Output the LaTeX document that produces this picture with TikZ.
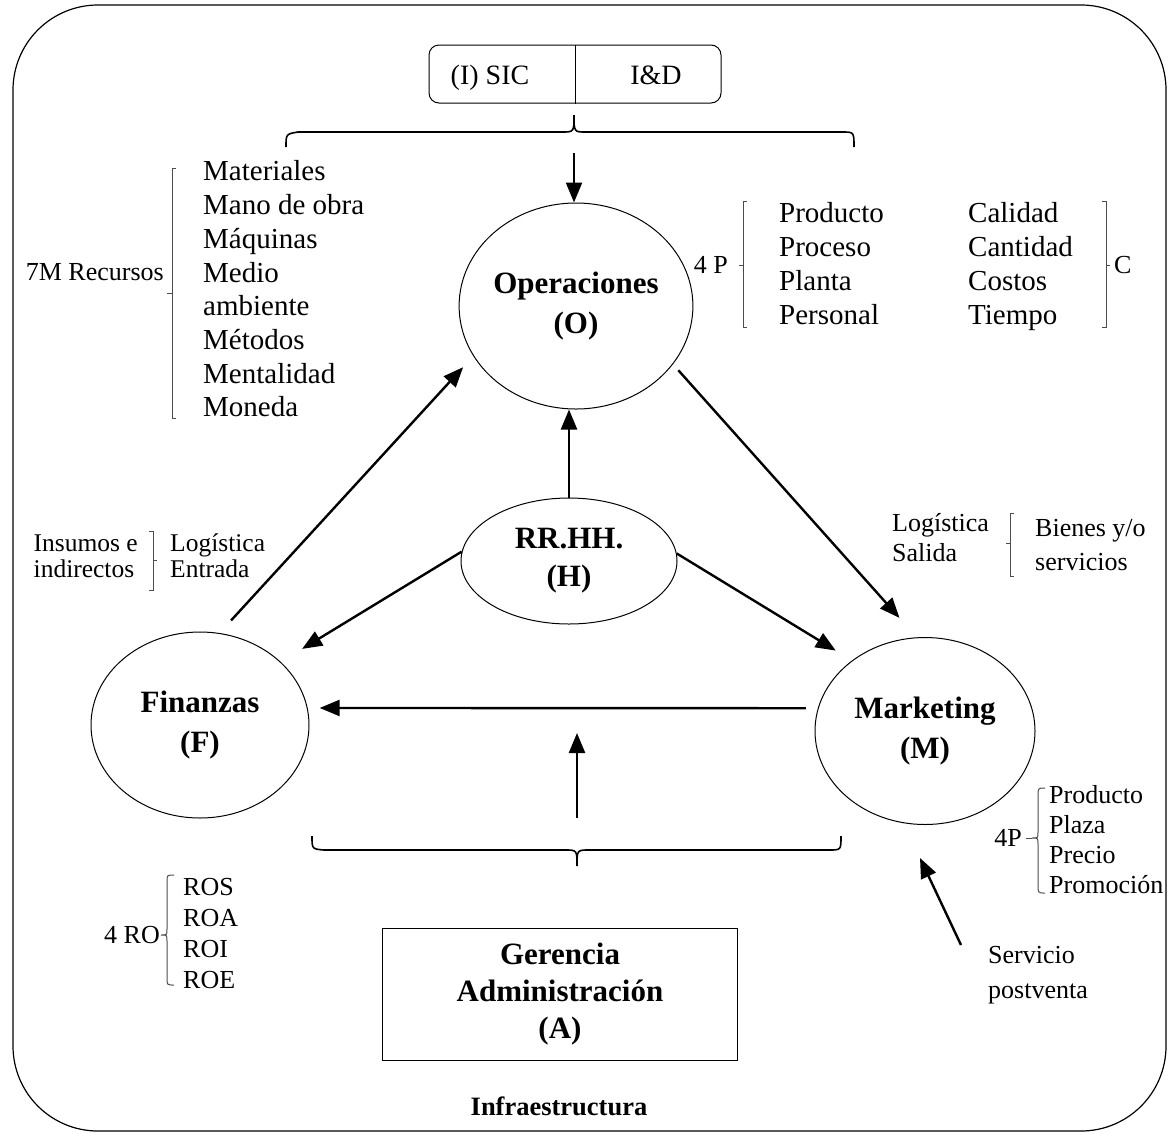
\documentclass[tikz,border=0pt]{standalone}
\usepackage{fontspec}
\setmainfont{Liberation Serif}
\usetikzlibrary{arrows.meta,shapes.geometric,calc}
\begin{document}
\begin{tikzpicture}[x=1pt,y=-1pt,
  every node/.style={inner sep=0pt},
  ell/.style={draw,ellipse,line width=1pt,align=center,font=\bfseries\fontsize{31}{40}\selectfont},
  arr/.style={line width=2.4pt,-{Triangle[length=20pt,width=16pt]}},
  lst/.style={anchor=west,align=left,font=\fontsize{29}{33.7}\selectfont},
  sml/.style={align=left,font=\fontsize{26}{30}\selectfont},
  brk/.style={line width=1pt,black!70},
  brc/.style={line width=1.6pt}]
\useasboundingbox (0,0) rectangle (1169,1133);
% outer frame
\draw[line width=1.2pt,rounded corners=85pt] (13,5) rectangle (1166,1131);

% top box
\node[draw,rounded corners=10pt,line width=1pt,minimum width=292pt,minimum height=58pt] (T) at (575,74) {};
\draw[line width=1pt] (T.north) -- (T.south);
\node[anchor=base,font=\fontsize{28}{32}\selectfont] (sic) at (490,84) {(I) SIC};
\node[anchor=base,font=\fontsize{28}{32}\selectfont] (id) at (656,84) {I\&D};

% top brace
\draw[brc] (286,147) .. controls (286,134) .. (298,132) -- (562,132) .. controls (574,132) .. (574,115)
  .. controls (574,132) .. (586,132) -- (842,132) .. controls (854,132) .. (854,147);

% ellipses
\node[ell,minimum width=228pt,minimum height=206pt] (O) at (576,306) {Operaciones\\(O)};
\node[ell,minimum width=216pt,minimum height=126pt,font=\bfseries\fontsize{31}{38}\selectfont] (H) at (569,561) {RR.HH.\\(H)};
\node[ell,minimum width=218pt,minimum height=186pt] (F) at (200,725) {Finanzas\\(F)};
\node[ell,minimum width=220pt,minimum height=187pt] (M) at (925,731) {Marketing\\(M)};

% gerencia box
\node[draw,line width=1pt,minimum width=355pt,minimum height=132pt,align=center,
  font=\bfseries\fontsize{31}{37}\selectfont] (A) at (560,994) {Gerencia\\Administración\\(A)};
\node[font=\bfseries\fontsize{26.5}{30}\selectfont] (inf) at (559,1106) {Infraestructura};

% arrows
\coordinate (ta) at (574,153);
\draw[arr] (ta) -- (ta |- O.north);
\draw[arr] (H.north) -- (H.north |- O.south);
\draw[arr,shorten <=17pt,shorten >=15pt] (F.78) -- (O.206);
\draw[arr,shorten <=8pt,shorten >=26pt] (O.329) -- (M.95);
\draw[arr,shorten >=25pt] (H.175) -- (F.38);
\draw[arr,shorten >=19pt] (H.4) -- (M.136);
\draw[arr,shorten <=12pt,shorten >=12pt] (M.168) -- (F.9);

% bottom brace and arrow
\draw[brc] (312,836) .. controls (312,849) .. (324,850) -- (565,850) .. controls (577,850) .. (577,866)
  .. controls (577,850) .. (589,850) -- (829,850) .. controls (841,850) .. (841,836);
\coordinate (ba) at (577,818);
\coordinate (bt) at (577,733);
\draw[arr] (ba) -- (bt);

% servicio postventa
\node[sml,anchor=west,font=\fontsize{26}{35}\selectfont] (SP) at (988,975) {Servicio\\postventa};
\coordinate (st) at (961,945);
\coordinate (sh) at (920,858);
\draw[arr] (st) -- (sh);

% 7M
\node[lst] (M7) at (203,289) {Materiales\\Mano de obra\\Máquinas\\Medio\\ambiente\\Métodos\\Mentalidad\\Moneda};
\node[sml,anchor=east] (R7) at (164,272) {7M Recursos};
\draw[brk] (176,168) -- (172,168) -- (172,418) -- (176,418);
\draw[brk] (172,293) -- (167,293);

% 4P operaciones
\node[sml,anchor=east] (P4) at (728,265) {4 P};
\node[lst,font=\fontsize{29}{34}\selectfont] (PC1) at (779,264) {Producto\\Proceso\\Planta\\Personal};
\node[lst,font=\fontsize{29}{34}\selectfont] (PC2) at (968,267) {Calidad\\Cantidad\\Costos\\Tiempo};
\node[sml,anchor=west] (C) at (1114,265) {C};
\draw[brk] (747,201) -- (743,201) -- (743,327) -- (747,327);
\draw[brk] (743,265) -- (739,265);
\draw[brk] (1102,201) -- (1106,201) -- (1106,327) -- (1102,327);
\draw[brk] (1106,265) -- (1110,265);

% logistica entrada
\node[sml,anchor=east,font=\fontsize{25.5}{26}\selectfont] (IN) at (138,556) {Insumos e\\indirectos};
\node[sml,anchor=west,font=\fontsize{25.5}{26}\selectfont] (LE) at (170,556) {Logística\\Entrada};
\draw[brk] (149,531) -- (153,531) -- (153,590) -- (149,590);
\draw[brk] (153,560) -- (157,560);

% logistica salida
\node[sml,anchor=west] (LS) at (892,538) {Logística\\Salida};
\node[sml,anchor=west,font=\fontsize{26}{34}\selectfont] (BS) at (1035,545) {Bienes y/o\\servicios};
\draw[brk] (1014,513) -- (1010,513) -- (1010,576) -- (1014,576);
\draw[brk] (1010,543) -- (1006,543);

% 4P marketing
\node[sml,anchor=east] (P4M) at (1022,838) {4P};
\node[sml,anchor=west] (PM) at (1049,840) {Producto\\Plaza\\Precio\\Promoción};
\draw[brk] (1026,838) -- (1032,838);
\draw[brk] (1045,788) .. controls (1038,788) .. (1038,796) -- (1038,832) .. controls (1038,838) .. (1032,838)
  .. controls (1038,838) .. (1038,844) -- (1038,885) .. controls (1038,893) .. (1045,893);

% 4 RO
\node[sml,anchor=east] (RO) at (160,935) {4 RO};
\node[sml,anchor=west,font=\fontsize{26}{31}\selectfont] (ROL) at (183,934) {ROS\\ROA\\ROI\\ROE};
\draw[brk] (174,875) .. controls (167,875) .. (167,882) -- (167,929) .. controls (167,935) .. (161,935)
  .. controls (167,935) .. (167,941) -- (167,978) .. controls (167,985) .. (174,985);
\end{tikzpicture}
\end{document}
